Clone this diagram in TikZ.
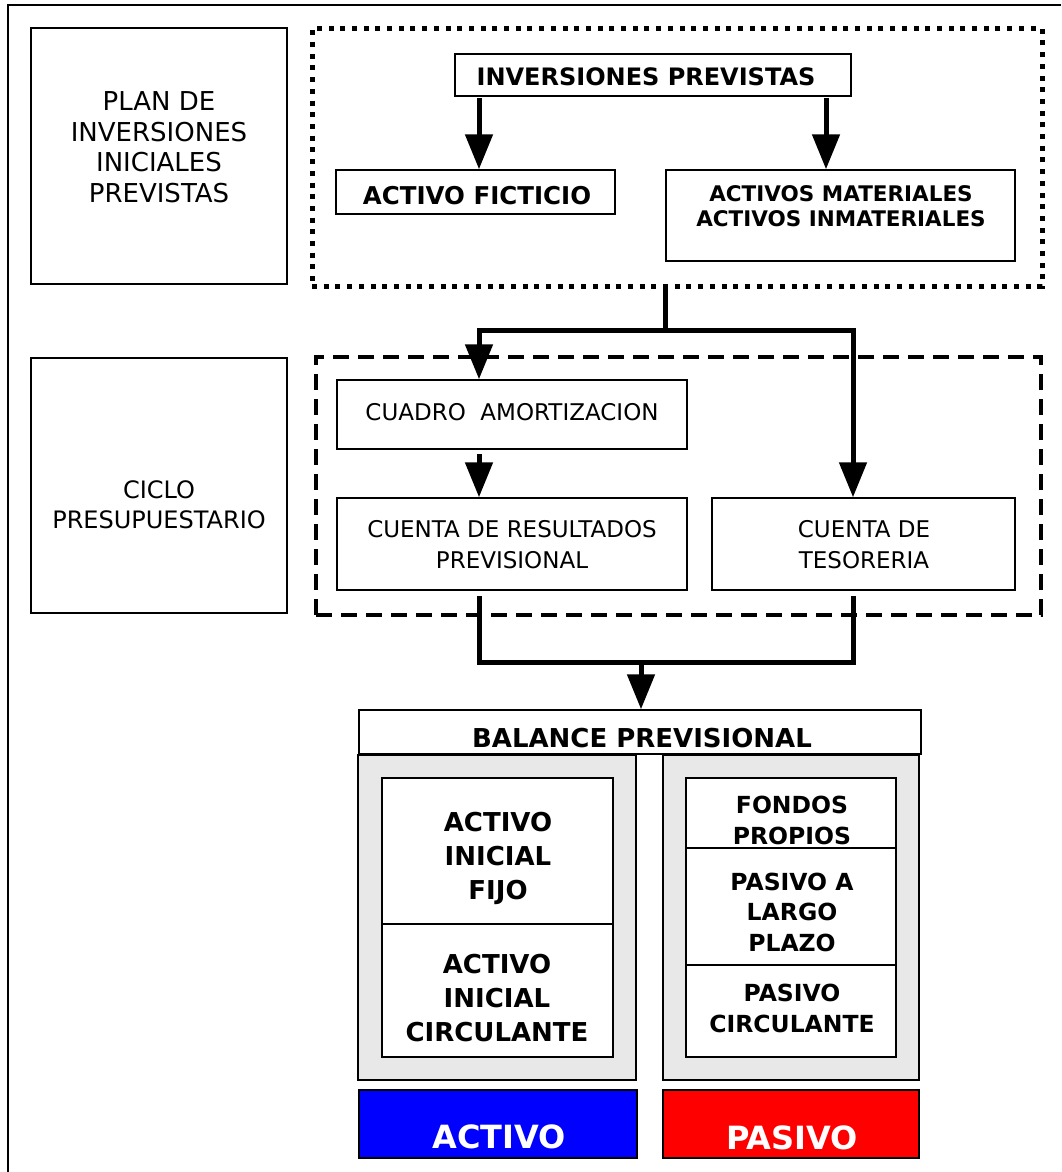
\documentclass[tikz,border=0pt]{standalone}
\usepackage{fontspec}
\setmainfont{DejaVu Sans}
\usetikzlibrary{arrows.meta}
\newcommand{\setfs}[2]{\fontsize{#1}{#2}\selectfont}
\definecolor{panelgrey}{RGB}{232,232,232}
\definecolor{activoblue}{RGB}{0,0,255}
\definecolor{pasivored}{RGB}{255,0,0}
\begin{document}
\begin{tikzpicture}[x=1pt,y=-1pt,
  box/.style={draw, line width=1.5pt, inner sep=0, fill=white},
  panel/.style={draw, line width=1.5pt, inner sep=0, fill=panelgrey},
  dotframe/.style={draw, line width=5pt, dash pattern=on 5pt off 6.7pt, inner sep=0},
  dashframe/.style={draw, line width=4pt, dash pattern=on 16pt off 9pt, inner sep=0},
  txt/.style={inner sep=0, align=center},
  wire/.style={line width=5pt},
  conn/.style={line width=5pt, -{Triangle[width=27pt,length=35pt]}},
  cbox/.style={draw=black, line width=1.5pt, inner sep=0}]
\useasboundingbox (0,0) rectangle (1061,1172);

% outer frame (top and left sides only)
\draw[line width=1.5pt] (1061,5) -- (8,5) -- (8,1172);

% left column captions
\node[box, minimum width=256, minimum height=256] (plan) at (159,156) {};
\node[txt, font=\setfs{26}{30.5}] (plantxt) at (159,147) {PLAN DE\\INVERSIONES\\INICIALES\\PREVISTAS};
\node[box, minimum width=256, minimum height=255] (ciclo) at (159,485.5) {};
\node[txt, font=\setfs{24}{30}] (ciclotxt) at (159,505) {CICLO\\PRESUPUESTARIO};

% investment plan group
\node[dotframe, minimum width=730, minimum height=258] (dot) at (677,157.5) {};
\node[box, minimum width=396, minimum height=42] (inv) at (653,75) {};
\node[txt, font=\bfseries\setfs{24}{30}] (invtxt) at (646,77) {INVERSIONES PREVISTAS};
\node[box, minimum width=279, minimum height=44] (fict) at (475.5,192) {};
\node[txt, font=\bfseries\setfs{24.5}{30}] (ficttxt) at (477,196) {ACTIVO FICTICIO};
\node[box, minimum width=349, minimum height=91] (mat) at (840.5,215.5) {};
\node[txt, font=\bfseries\setfs{21.5}{25}] (mattxt) at (841,206) {ACTIVOS MATERIALES\\ACTIVOS INMATERIALES};

% budget cycle group
\node[dashframe, minimum width=725, minimum height=258] (dash) at (678.5,486) {};
\node[box, minimum width=350, minimum height=69] (cuadro) at (512,414.5) {};
\node[txt, font=\setfs{23}{30}] (cuadrotxt) at (512,412) {CUADRO\ \ AMORTIZACION};
\node[box, minimum width=350, minimum height=92] (res) at (512,544) {};
\node[txt, font=\setfs{23}{31}] (restxt) at (512,545) {CUENTA DE RESULTADOS\\PREVISIONAL};
\node[box, minimum width=303, minimum height=92] (teso) at (863.5,544) {};
\node[txt, font=\setfs{23}{31}] (tesotxt) at (864,545) {CUENTA DE\\TESORERIA};

% balance sheet
\node[box, minimum width=562, minimum height=44] (bal) at (640,732) {};
\node[txt, font=\bfseries\setfs{26}{30}] (baltxt) at (642,738) {BALANCE PREVISIONAL};
\node[panel, minimum width=278, minimum height=325] (gl) at (497,917.5) {};
\node[panel, minimum width=256, minimum height=325] (gr) at (791,917.5) {};
\node[box, minimum width=231, minimum height=146] (fijo) at (497.5,851) {};
\node[box, minimum width=231, minimum height=133] (acirc) at (497.5,990.5) {};
\node[box, minimum width=210, minimum height=70] (fondos) at (791,813) {};
\node[box, minimum width=210, minimum height=117] (largo) at (791,906.5) {};
\node[box, minimum width=210, minimum height=92] (pcirc) at (791,1011) {};
\node[txt, font=\bfseries\setfs{26}{34}] (fijotxt) at (498,858) {ACTIVO\\INICIAL\\FIJO};
\node[txt, font=\bfseries\setfs{26}{34}] (acirctxt) at (497,998) {ACTIVO\\INICIAL\\CIRCULANTE};
\node[txt, font=\bfseries\setfs{23.5}{31}] (fondostxt) at (792,820) {FONDOS\\PROPIOS};
\node[txt, font=\bfseries\setfs{23.5}{30.5}] (largotxt) at (792,912) {PASIVO A\\LARGO\\PLAZO};
\node[txt, font=\bfseries\setfs{23.5}{31}] (pcirctxt) at (792,1008) {PASIVO\\CIRCULANTE};

% totals
\node[cbox, fill=activoblue, minimum width=278, minimum height=68] (activo) at (498,1124) {};
\node[txt, font=\bfseries\setfs{32}{34}, text=white] (activotxt) at (499,1137) {ACTIVO};
\node[cbox, fill=pasivored, minimum width=256, minimum height=68] (pasivo) at (791,1124) {};
\node[txt, font=\bfseries\setfs{32}{34}, text=white] (pasivotxt) at (792,1138) {PASIVO};

% connector columns
\coordinate (xa) at (479,0);
\coordinate (xb) at (826,0);
\coordinate (xt) at (853,0);
\coordinate (j1) at (665,330);
\coordinate (j2) at (641,662);

% connectors
\draw[conn, shorten <=1pt] (inv.south -| xa) -- (fict.north -| xa);
\draw[conn, shorten <=1pt] (inv.south -| xb) -- (mat.north -| xb);
\draw[wire] (dot.south -| j1) -- (j1);
\draw[conn] (j1) -| (cuadro.north -| xa);
\draw[conn] (j1) -| (teso.north -| xt);
\draw[conn, shorten <=4pt] (cuadro.south -| xa) -- (res.north -| xa);
\draw[wire, shorten <=5pt, shorten >=5pt] (res.south -| xa) -- (xa |- j2) -- (xt |- j2) -- (teso.south -| xt);
\draw[conn] (j2) -- (bal.north -| j2);
\end{tikzpicture}
\end{document}
